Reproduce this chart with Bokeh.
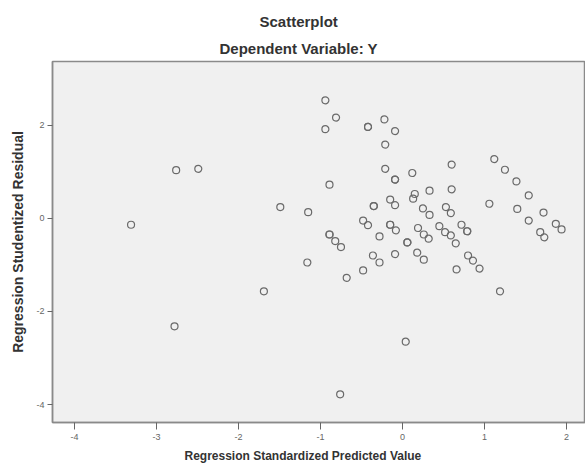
from bokeh.plotting import figure
from bokeh.models import Range1d, FixedTicker, Title
from bokeh.embed import file_html
from bokeh.resources import INLINE

# Regression standardized predicted value (x) and studentized residual (y)
pred = [-3.31, -2.76, -2.49, -2.78, -1.69, -1.49, -1.15, -1.16, -0.76, 0.04,
        -0.94, -0.81, -0.94, -0.42, -0.42, -0.22, -0.09, -0.21, -0.21, -0.09, -0.09,
        0.12, 0.60, 0.60, 0.33, 0.15, 0.13, -0.89, -0.35, -0.35, -0.15, -0.09,
        0.25, 0.33, 0.53, 0.59, -0.48, -0.42, -0.15, -0.15, -0.08, -0.28,
        0.19, 0.26, 0.32, 0.06, 0.06, 0.45, 0.52, 0.59, 0.65, 0.72, 0.79, 0.79,
        -0.89, -0.89, -0.82, -0.75, -0.36, -0.28, -0.09, 0.18, 0.26, -0.48, -0.68,
        0.66, 0.80, 0.86, 0.94, 1.19, 1.06, 1.12, 1.25, 1.39, 1.54, 1.40, 1.54,
        1.72, 1.68, 1.73, 1.87, 1.94]
resid = [-0.14, 1.03, 1.06, -2.32, -1.57, 0.24, 0.13, -0.95, -3.78, -2.65,
         2.53, 2.16, 1.91, 1.96, 1.96, 2.12, 1.87, 1.58, 1.06, 0.83, 0.83,
         0.97, 1.15, 0.62, 0.59, 0.52, 0.42, 0.72, 0.26, 0.26, 0.40, 0.28,
         0.21, 0.07, 0.24, 0.11, -0.05, -0.15, -0.14, -0.14, -0.26, -0.39,
         -0.21, -0.35, -0.44, -0.52, -0.52, -0.17, -0.30, -0.37, -0.54, -0.14, -0.28, -0.28,
         -0.35, -0.35, -0.49, -0.62, -0.80, -0.95, -0.77, -0.74, -0.89, -1.12, -1.28,
         -1.10, -0.80, -0.91, -1.08, -1.57, 0.31, 1.27, 1.04, 0.79, 0.49, 0.20, -0.05,
         0.12, -0.30, -0.41, -0.12, -0.24]

x_ticks = [-4, -3, -2, -1, 0, 1, 2]
x_tick_labels = ["-4", "-3", "-2", "-1", "0", "1", "2"]
y_ticks = [-4, -2, 0, 2]
y_tick_labels = ["-4", "-2", "0", "2"]

title_text = "Scatterplot"
subtitle_text = "Dependent Variable: Y"
x_title = "Regression Standardized Predicted Value"
y_title = "Regression Studentized Residual"

FONT = "Liberation Sans"
TXT = "#333333"

p = figure(width=585, height=466, output_backend="svg", toolbar_location=None,
           x_range=Range1d(-4.268, 2.232), y_range=Range1d(-4.384, 3.363),
           min_border_left=52, min_border_right=0, min_border_top=61,
           min_border_bottom=44)
p.background_fill_color = "#f0f0f0"
p.border_fill_color = "#ffffff"
p.outline_line_color = "#8a8a8a"
p.outline_line_width = 1.5
p.grid.visible = False

# Outer title (top line)
p.title.text = title_text
p.title.align = "left"
p.title.offset = 207
p.title.text_font = FONT
p.title.text_font_size = "15px"
p.title.text_font_style = "bold"
p.title.text_color = TXT
p.title.standoff = 6
# Sub-title, nearest the frame
p.add_layout(Title(text=subtitle_text, align="left", offset=167, text_font=FONT,
                   text_font_size="15px", text_font_style="bold",
                   text_color=TXT, standoff=10), "above")
# X axis title as a bottom title so it can be offset like the reference
p.add_layout(Title(text=x_title, align="left", offset=132, text_font=FONT,
                   text_font_size="12px", text_font_style="bold",
                   text_color=TXT, standoff=8), "below")

for ax in (p.xaxis[0], p.yaxis[0]):
    ax.axis_line_color = "#8a8a8a"
    ax.axis_line_width = 1.5
    ax.major_tick_line_color = "#666666"
    ax.minor_tick_line_color = None
    ax.major_tick_in = 0
    ax.major_label_text_font = FONT
    ax.major_label_text_font_size = "9px"
    ax.major_label_text_color = "#666666"
    ax.major_label_standoff = 3
    ax.axis_label_text_font = FONT
    ax.axis_label_text_font_style = "bold"
    ax.axis_label_text_color = TXT

p.xaxis[0].ticker = FixedTicker(ticks=x_ticks)
p.xaxis[0].major_label_overrides = {t: l for t, l in zip(x_ticks, x_tick_labels)}
p.xaxis[0].major_tick_out = 7
p.xaxis[0].major_label_standoff = 4

p.yaxis[0].ticker = FixedTicker(ticks=y_ticks)
p.yaxis[0].major_label_overrides = {t: l for t, l in zip(y_ticks, y_tick_labels)}
p.yaxis[0].major_tick_out = 5
p.yaxis[0].axis_label = y_title
p.yaxis[0].axis_label_text_font_size = "14px"
p.yaxis[0].axis_label_standoff = 7

p.scatter(pred, resid, marker="circle", size=7, fill_color=None,
          line_color="#6a6a6a", line_width=1.2)

open("out.html", "w").write(file_html(p, INLINE))
